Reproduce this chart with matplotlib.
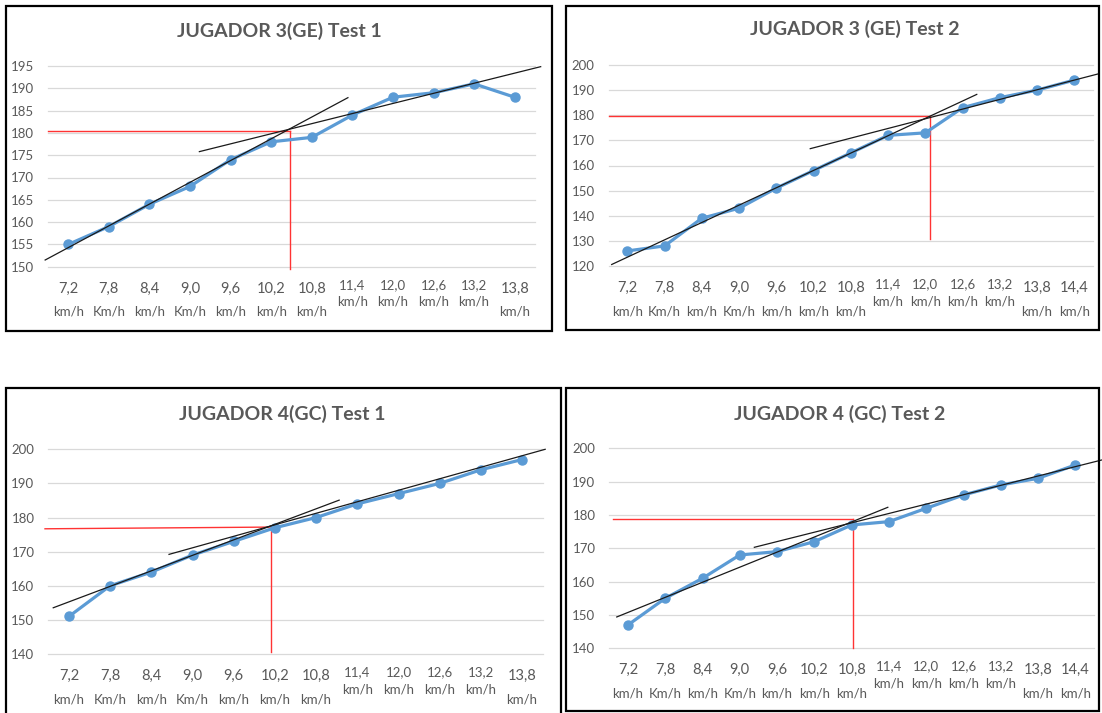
import matplotlib.pyplot as plt
from matplotlib.patches import Rectangle

plt.rcParams['font.family'] = ['Lato', 'DejaVu Sans']

W, H = 1102, 713
GRIS = '#595959'
AZUL = '#5B9BD5'
ROJO = '#FF3333'

# etapas del test (km/h)
vel_12 = ['7,2', '7,8', '8,4', '9,0', '9,6', '10,2', '10,8', '11,4', '12,0', '12,6', '13,2', '13,8']
vel_13 = vel_12 + ['14,4']
uni_12 = ['km/h', 'Km/h', 'km/h', 'Km/h', 'km/h', 'km/h', 'km/h', 'km/h', 'km/h', 'km/h', 'km/h', 'km/h']
uni_13 = uni_12 + ['km/h']

# frecuencia cardiaca (ppm) por etapa
fc_j3_t1 = [155, 159, 164, 168, 174, 178, 179, 184, 188, 189, 191, 188]
fc_j3_t2 = [126, 128, 139, 143, 151, 158, 165, 172, 173, 183, 187, 190, 194]
fc_j4_t1 = [151, 160, 164, 169, 173, 177, 180, 184, 187, 190, 194, 197]
fc_j4_t2 = [147, 155, 161, 168, 169, 172, 177, 178, 182, 186, 189, 191, 195]

# rectas trazadas a mano: (x0, x1), (y0, y1) en posicion de etapa / ppm
rectas_j3_t1 = [((-0.57, 6.89), (151.5, 187.9)), ((3.23, 11.64), (175.8, 194.85))]
rectas_j3_t2 = [((-0.42, 9.38), (120.6, 188.3)), ((4.91, 12.65), (166.7, 196.5))]
rectas_j4_t1 = [((-0.38, 6.56), (153.55, 185.1)), ((2.43, 11.56), (169.2, 200.0))]
rectas_j4_t2 = [((-0.30, 6.97), (149.4, 182.3)), ((3.39, 12.71), (170.3, 196.5))]

# umbral: horizontal (x0, x1, y0, y1) y vertical hasta y_fin
umbral_j3_t1 = ((-0.5, 5.46, 180.5, 180.5), 149.5)
umbral_j3_t2 = ((-0.5, 8.12, 179.8, 179.8), 130.6)
umbral_j4_t1 = ((-0.58, 4.90, 176.7, 177.2), 140.6)
umbral_j4_t2 = ((-0.41, 6.03, 178.7, 178.7), 140.0)

paneles = [
    dict(titulo='JUGADOR 3(GE) Test 1', tx=279, ty=31, caja=(6, 6, 552, 331),
         area=(48, 66, 535, 266.7), ylim=(150, 195), paso=5,
         vel=vel_12, uni=uni_12, fc=fc_j3_t1, rectas=rectas_j3_t1, umbral=umbral_j3_t1),
    dict(titulo='JUGADOR 3 (GE) Test 2', tx=855, ty=29, caja=(566, 6, 1099, 330),
         area=(608.7, 65, 1093, 266), ylim=(120, 200), paso=10,
         vel=vel_13, uni=uni_13, fc=fc_j3_t2, rectas=rectas_j3_t2, umbral=umbral_j3_t2),
    dict(titulo='JUGADOR 4(GC) Test 1', tx=282, ty=414, caja=(6, 388, 561, 716),
         area=(48.3, 449.3, 542.7, 654), ylim=(140, 200), paso=10,
         vel=vel_12, uni=uni_12, fc=fc_j4_t1, rectas=rectas_j4_t1, umbral=umbral_j4_t1),
    dict(titulo='JUGADOR 4 (GC) Test 2', tx=840, ty=414, caja=(566, 388, 1099, 711),
         area=(609.3, 448.3, 1094, 648.3), ylim=(140, 200), paso=10,
         vel=vel_13, uni=uni_13, fc=fc_j4_t2, rectas=rectas_j4_t2, umbral=umbral_j4_t2),
]

fig = plt.figure(figsize=(W / 100, H / 100), dpi=100)
fig.patch.set_facecolor('white')

for p in paneles:
    x0, y0, x1, y1 = p['caja']
    fig.add_artist(Rectangle((x0 / W, 1 - y1 / H), (x1 - x0) / W, (y1 - y0) / H,
                             transform=fig.transFigure, fill=False,
                             edgecolor='black', linewidth=1.6))
    fig.text(p['tx'] / W, 1 - p['ty'] / H, p['titulo'], ha='center', va='center',
             fontsize=14, fontweight='bold', color=GRIS)

    l, t, r, b = p['area']
    ax = fig.add_axes([l / W, 1 - b / H, (r - l) / W, (b - t) / H])
    n = len(p['fc'])
    x = list(range(n))
    lo, hi = p['ylim']
    ax.set_xlim(-0.5, n - 0.5)
    ax.set_ylim(lo, hi)
    ax.set_yticks(range(lo, hi + 1, p['paso']))
    ax.set_xticks([])
    for s in ax.spines.values():
        s.set_visible(False)
    ax.yaxis.grid(True, color='#D9D9D9', linewidth=0.9)
    for g in ax.get_ygridlines():
        g.set_clip_on(False)
    ax.set_axisbelow(True)
    ax.tick_params(axis='y', length=0, pad=10, labelsize=9.5, labelcolor=GRIS)

    # etiquetas de etapa en dos lineas
    for i in x:
        compacta = 7 <= i <= 10
        dy1, dy2 = (-18, -35) if compacta else (-22, -45)
        fs1 = 9.5 if compacta else 10.5
        ax.annotate(p['vel'][i], xy=(i, 0), xycoords=ax.get_xaxis_transform(),
                    xytext=(0, dy1), textcoords='offset pixels', ha='center', va='center',
                    fontsize=fs1, color=GRIS, annotation_clip=False)
        ax.annotate(p['uni'][i], xy=(i, 0), xycoords=ax.get_xaxis_transform(),
                    xytext=(0, dy2), textcoords='offset pixels', ha='center', va='center',
                    fontsize=9.5, color=GRIS, annotation_clip=False)

    (hx0, hx1, hy0, hy1), yfin = p['umbral']
    ax.plot([hx0, hx1], [hy0, hy1], color=ROJO, linewidth=1.0, zorder=2, clip_on=False)
    ax.plot([hx1, hx1], [hy1, yfin], color=ROJO, linewidth=1.0, zorder=2, clip_on=False)

    ax.plot(x, p['fc'], color=AZUL, linewidth=2.3, marker='o', markersize=6.5,
            zorder=3, clip_on=False)

    for xs, ys in p['rectas']:
        ax.plot(xs, ys, color='#1a1a1a', linewidth=0.9, zorder=4, clip_on=False)

fig.savefig('out.png', dpi=100)
